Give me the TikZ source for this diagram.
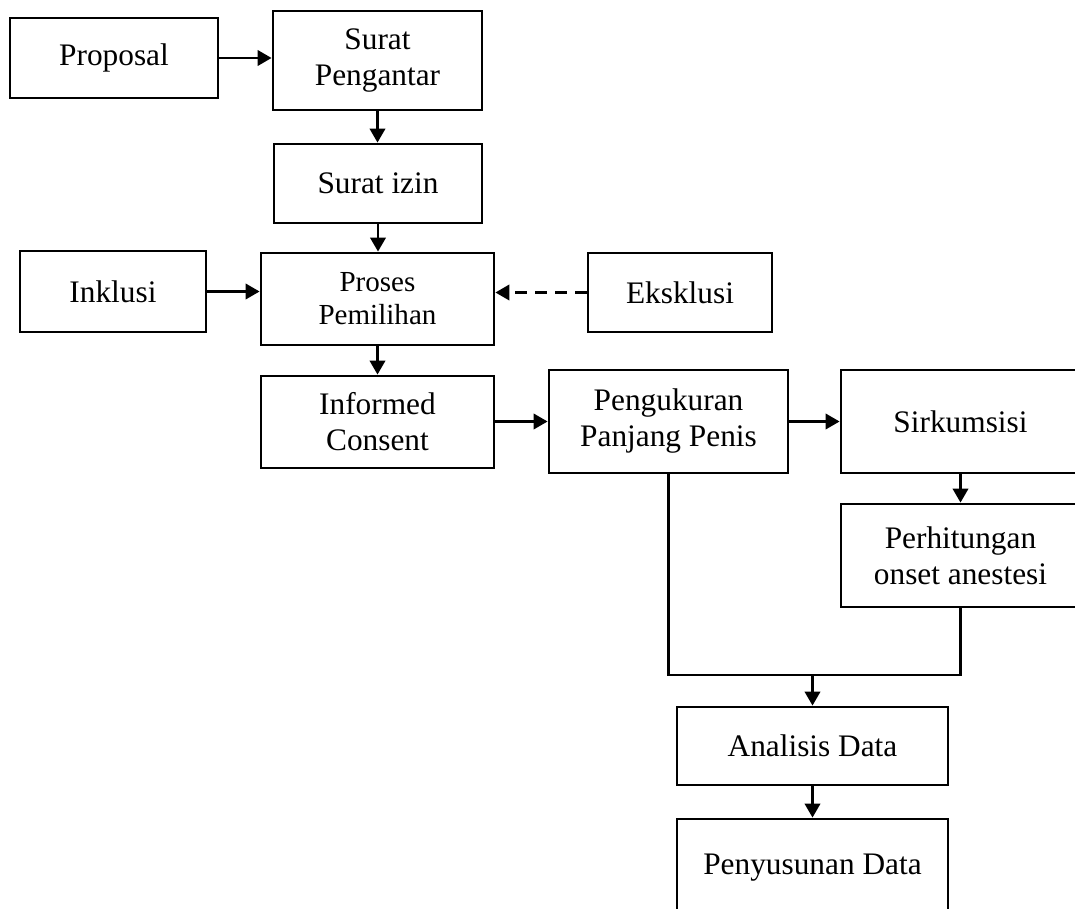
\documentclass[tikz,border=0pt]{standalone}
\usepackage{fontspec}
\setmainfont{Liberation Serif}
\usetikzlibrary{arrows.meta}
\tikzset{
  box/.style={draw, rectangle, line width=2.1pt, align=center, inner sep=0pt,
    font=\fontsize{23.5}{27}\selectfont},
  smallbox/.style={box, font=\fontsize{21.8}{24.8}\selectfont},
  arr/.style={line width=2.1pt, -{Triangle[length=10.5pt,width=11.5pt]}},
  con/.style={line width=2.1pt},
  dsh/.style={arr, dash pattern=on 9pt off 6pt}
}
\begin{document}
\begin{tikzpicture}[x=0.75pt,y=-0.75pt]
\useasboundingbox (0,0) rectangle (1075,909);
\clip (0,0) rectangle (1075,909);
\node[box, minimum width=156pt, minimum height=60pt] (prop) at (114,58) {Proposal};
\node[box, minimum width=156.75pt, minimum height=74.25pt] (sp) at (377.5,60.5) {Surat\\Pengantar};
\node[box, minimum width=156pt, minimum height=59.25pt] (si) at (378,183.5) {Surat izin};
\node[box, minimum width=139.5pt, minimum height=60.75pt] (ink) at (113,291.5) {Inklusi};
\node[smallbox, minimum width=174.75pt, minimum height=69pt] (pp) at (377.5,299) {Proses\\Pemilihan};
\node[box, minimum width=138pt, minimum height=59.25pt] (eks) at (680,292.5) {Eksklusi};
\node[box, minimum width=174.75pt, minimum height=69pt] (ic) at (377.5,422) {Informed\\Consent};
\node[box, minimum width=179.25pt, minimum height=77.25pt] (pen) at (668.5,421.5) {Pengukuran\\Panjang Penis};
\node[box, minimum width=179.25pt, minimum height=77.25pt] (sir) at (960.5,421.5) {Sirkumsisi};
\node[box, minimum width=179.25pt, minimum height=77.25pt] (per) at (960.5,555.5) {Perhitungan\\onset anestesi};
\node[box, minimum width=203.25pt, minimum height=58.5pt] (ana) at (812.5,746) {Analisis Data};
\node[box, minimum width=203.25pt, minimum height=73.5pt] (pny) at (812.5,868) {Penyusunan Data};
\coordinate (j) at (812.5,675);

\draw[arr] (prop) -- (sp.west |- prop.east);
\draw[arr] (sp.south) -- (sp.south |- si.north);
\draw[arr] (si.south) -- (si.south |- pp.north);
\draw[arr] (ink.east) -- (pp.west |- ink.east);
\draw[dsh] (eks.west) -- (pp.east |- eks.west);
\draw[arr] (pp.south) -- (ic.north);
\draw[arr] (ic.east |- pen.west) -- (pen.west);
\draw[arr] (pen.east) -- (sir.west);
\draw[arr] (sir.south) -- (per.north);
\draw[con] (pen.south) |- (j) -| (per.south);
\draw[arr] (j) -- (ana.north);
\draw[arr] (ana.south) -- (pny.north);
\end{tikzpicture}
\end{document}
